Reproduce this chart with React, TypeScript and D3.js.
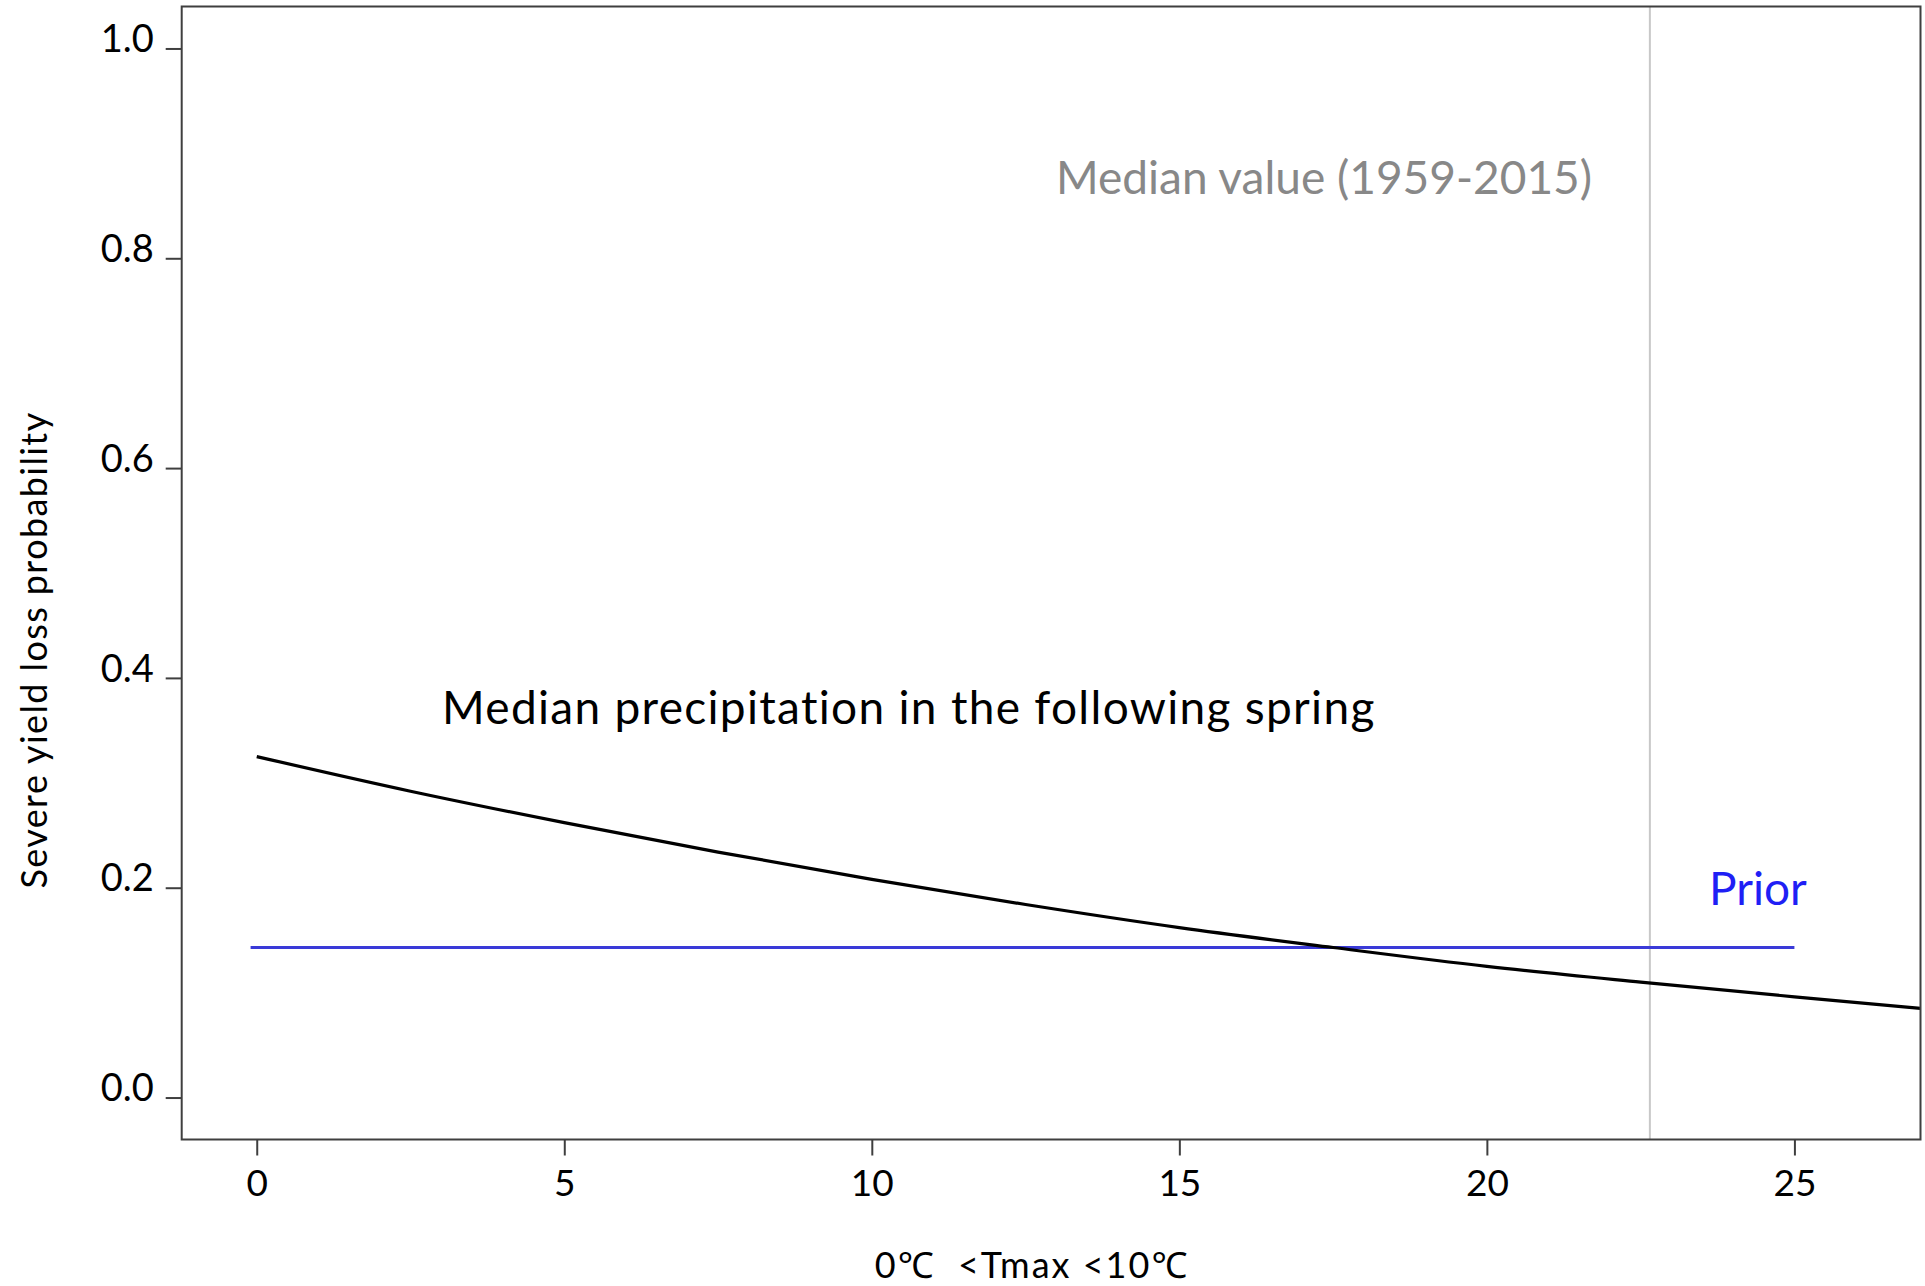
import React, { useEffect, useRef } from 'react';
import * as d3 from 'd3';

// values
const curveX = [0, 2.5, 5, 7.5, 10, 12.5, 15, 17.5, 20, 22.5, 25, 27.05];
const curveY = [0.325, 0.292, 0.262, 0.234, 0.208, 0.184, 0.162, 0.143, 0.125, 0.11, 0.096, 0.085];
const priorX = [-0.1, 25];
const priorValue = 0.143;
const medianX = 22.65;
const xTicks = [0, 5, 10, 15, 20, 25];
const yTicks = [0, 0.2, 0.4, 0.6, 0.8, 1.0];

const W = 1925;
const H = 1286;

export default function App() {
  const svgRef = useRef<SVGSVGElement>(null);

  useEffect(() => {
    if (!svgRef.current) return;
    const svg = d3.select(svgRef.current);
    svg.selectAll('*').remove();

    const left = 181.7, right = 1920.5, top = 6.5, bottom = 1139.5;
    const x = d3.scaleLinear().domain([-1.22, 27.05]).range([left, right]);
    const y = d3.scaleLinear().domain([-0.04, 1.04]).range([bottom, top]);

    const font = 'Lato, "Noto Sans", sans-serif';
    const axisColor = '#3f3f3f';

    // median vertical line
    svg.append('line')
      .attr('x1', x(medianX)).attr('x2', x(medianX))
      .attr('y1', top).attr('y2', bottom)
      .attr('stroke', '#c8c8c8').attr('stroke-width', 2);

    // prior line
    svg.append('line')
      .attr('x1', x(priorX[0])).attr('x2', x(priorX[1]))
      .attr('y1', y(priorValue)).attr('y2', y(priorValue))
      .attr('stroke', '#3a3ad8').attr('stroke-width', 3.2);

    // posterior curve
    const pts = curveX.map((v, i) => [v, curveY[i]] as [number, number]);
    const line = d3.line<[number, number]>()
      .x(d => x(d[0]))
      .y(d => y(d[1]))
      .curve(d3.curveMonotoneX);
    svg.append('path')
      .datum(pts)
      .attr('d', line)
      .attr('fill', 'none')
      .attr('stroke', '#000')
      .attr('stroke-width', 3.2);

    // plot box
    svg.append('rect')
      .attr('x', left).attr('y', top)
      .attr('width', right - left).attr('height', bottom - top)
      .attr('fill', 'none')
      .attr('stroke', axisColor).attr('stroke-width', 2);

    // y axis
    const yAxis = svg.append('g')
      .attr('transform', `translate(${left},0)`)
      .call(d3.axisLeft(y).tickValues(yTicks).tickSize(16).tickPadding(12).tickFormat(d3.format('.1f')));
    yAxis.select('.domain').remove();
    yAxis.selectAll('line').attr('stroke', axisColor).attr('stroke-width', 2);
    yAxis.selectAll('text')
      .attr('fill', '#000')
      .attr('transform', 'translate(0,-9)')
      .style('font-family', font)
      .style('font-size', '38px');

    // x axis
    const xAxis = svg.append('g')
      .attr('transform', `translate(0,${bottom})`)
      .call(d3.axisBottom(x).tickValues(xTicks).tickSize(16).tickPadding(14));
    xAxis.select('.domain').remove();
    xAxis.selectAll('line').attr('stroke', axisColor).attr('stroke-width', 2);
    xAxis.selectAll('text')
      .attr('fill', '#000')
      .style('font-family', font)
      .style('font-size', '37px');

    // axis titles
    svg.append('text')
      .attr('transform', `translate(34,${650}) rotate(-90)`)
      .attr('text-anchor', 'middle')
      .attr('dy', '0.35em')
      .style('font-family', font)
      .style('font-size', '36px')
      .style('letter-spacing', '1.4px')
      .text('Severe yield loss probability');

    svg.append('text')
      .attr('x', 1032).attr('y', 1265)
      .attr('text-anchor', 'middle')
      .attr('dy', '0.35em')
      .style('font-family', font)
      .style('font-size', '36px')
      .style('letter-spacing', '2px')
      .style('white-space', 'pre')
      .text('0\u2103  <Tmax <10\u2103');

    // annotations
    svg.append('text')
      .attr('x', 1056).attr('y', 178)
      .attr('dy', '0.35em')
      .attr('fill', '#888888')
      .style('font-family', font)
      .style('font-size', '46px')
      .text('Median value (1959-2015)');

    svg.append('text')
      .attr('x', 442).attr('y', 708)
      .attr('dy', '0.35em')
      .attr('fill', '#000')
      .style('font-family', font)
      .style('font-size', '46px')
      .style('letter-spacing', '1.3px')
      .text('Median precipitation in the following spring');

    svg.append('text')
      .attr('x', 1709).attr('y', 889)
      .attr('dy', '0.35em')
      .attr('fill', '#1f1ff5')
      .style('font-family', font)
      .style('font-size', '46px')
      .text('Prior');
  }, []);

  return (
    <svg
      ref={svgRef}
      width={W}
      height={H}
      style={{ position: 'absolute', left: 0, top: 0, background: '#fff' }}
    />
  );
}
